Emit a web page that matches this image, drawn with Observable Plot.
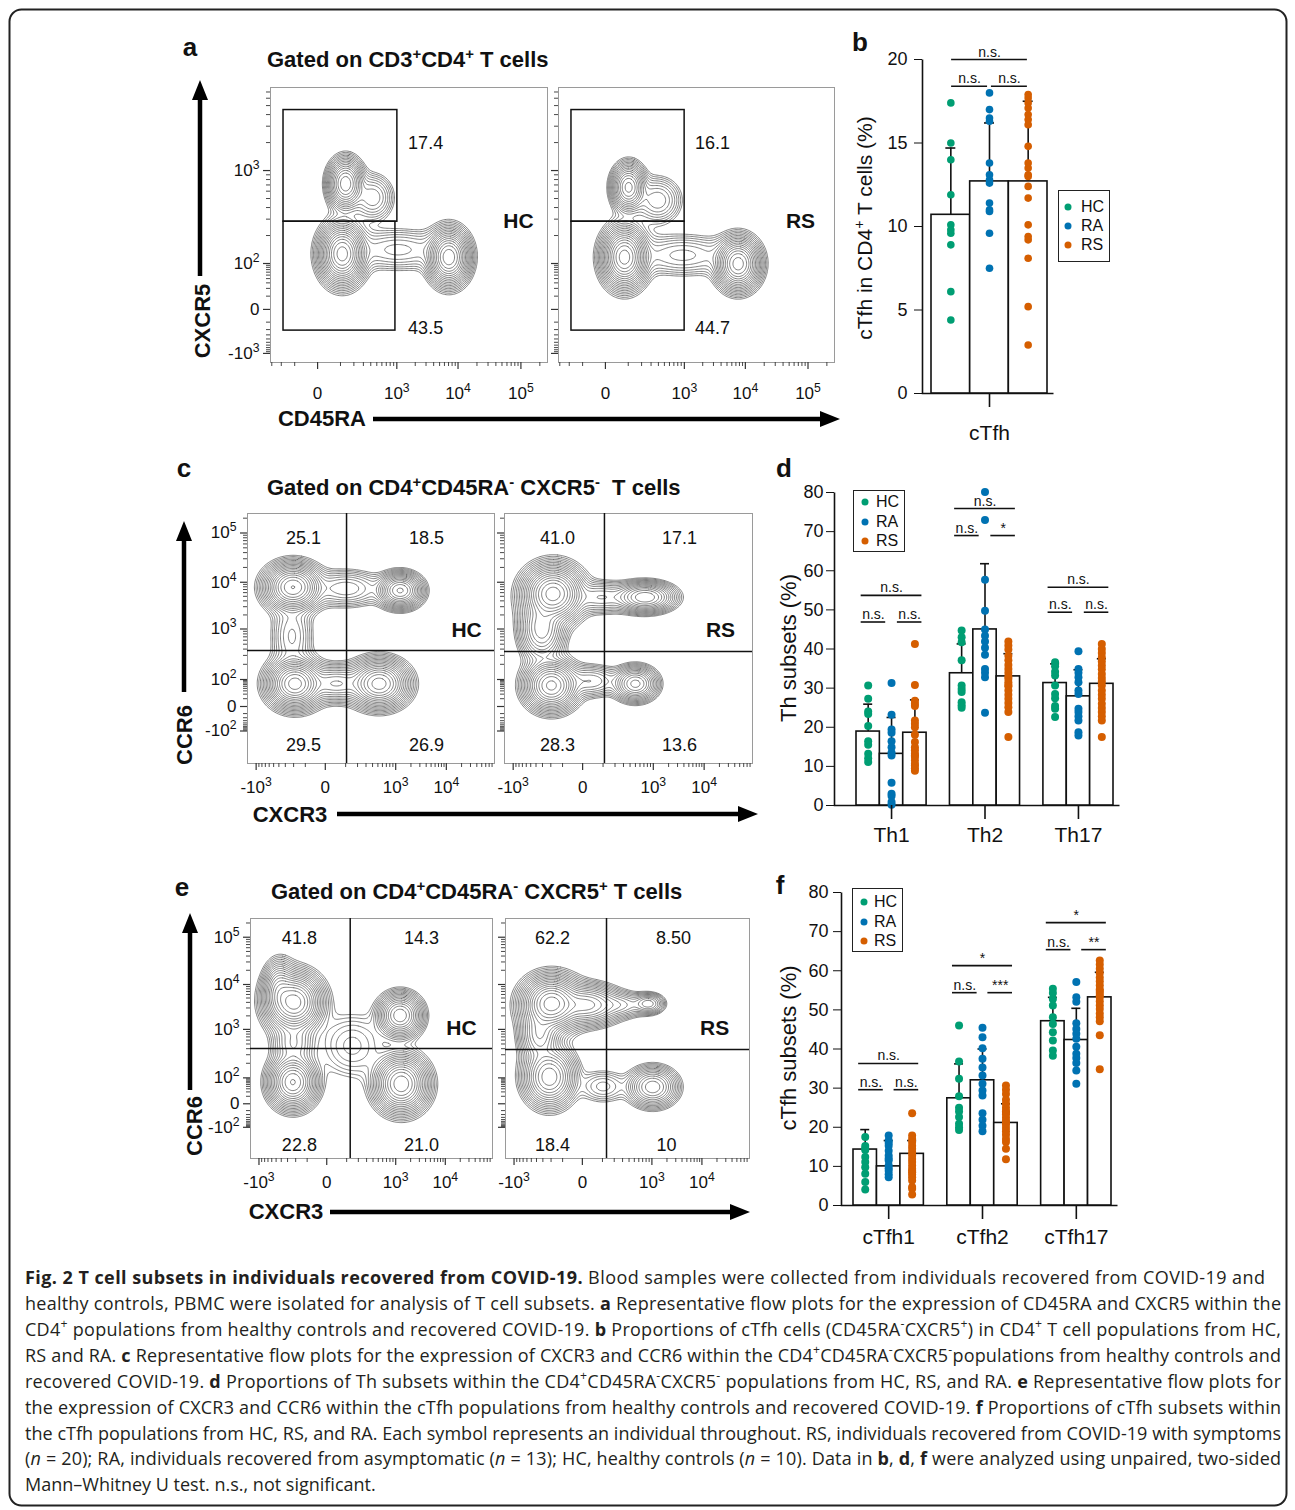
<!DOCTYPE html>
<html><head><meta charset="utf-8">
<script src="https://cdn.jsdelivr.net/npm/d3@7"></script>
<script src="https://cdn.jsdelivr.net/npm/@observablehq/plot@0.6"></script>
<style>
html,body{margin:0;padding:0;background:#fff;}
#page{position:relative;width:1295px;height:1510px;overflow:hidden;background:#fff;font-family:"Liberation Sans",Arial,sans-serif;color:#111;}
.lbl{position:absolute;white-space:nowrap;line-height:1;}
.lbl sup{font-size:0.68em;vertical-align:0.55em;line-height:0;}
.legend{position:absolute;border:1.2px solid #222;background:#fff;box-sizing:border-box;}
.legend .row{position:absolute;left:0;font-size:16px;line-height:1;transform:translateY(-50%);white-space:nowrap;}
.legend .dot{position:absolute;width:7px;height:7px;border-radius:50%;transform:translate(-50%,-50%);}
</style></head>
<body><div id="page"></div>
<script>
// ======================= DATA =======================
const series = ["HC", "RA", "RS"];
const seriesColor = ["#009E73", "#0072B2", "#D55E00"];

// ---- panel b : cTfh in CD4+ T cells (%) ----
const bGroups = ["cTfh"];
const bHC = [[17.4, 15.0, 14.0, 11.9, 10.1, 9.8, 9.6, 8.9, 6.1, 4.4]];
const bRA = [[18.0, 17.0, 16.5, 16.3, 13.8, 13.1, 12.8, 12.6, 11.4, 11.0, 10.9, 9.6, 7.5]];
const bRS = [[17.9, 17.7, 17.4, 17.1, 16.7, 16.4, 16.1, 14.8, 13.8, 13.5, 13.1, 13.0, 12.4, 11.7, 10.1, 9.4, 9.2, 8.1, 5.2, 2.9]];
const bMean = [[10.7, 12.7, 12.7]];
const bSDTop = [[14.7, 16.2, 17.5]];
const bTicks = [0, 5, 10, 15, 20];
const bSig = [
  {group: "cTfh", pair: ["HC", "RS"], label: "n.s.", level: 20.0},
  {group: "cTfh", pair: ["HC", "RA"], label: "n.s.", level: 18.4},
  {group: "cTfh", pair: ["RA", "RS"], label: "n.s.", level: 18.4}
];

// ---- panel d : Th subsets (%) ----
const dGroups = ["Th1", "Th2", "Th17"];
const dHC = [
  [30.7, 27.3, 24.0, 23.4, 20.3, 16.4, 15.5, 13.2, 12.1, 11.1],
  [44.7, 43.0, 41.7, 37.1, 30.7, 29.8, 29.0, 26.4, 25.6, 25.0],
  [36.6, 35.6, 34.2, 33.2, 30.7, 28.5, 27.4, 25.4, 24.7, 22.6]
];
const dRA = [
  [31.3, 23.2, 19.4, 18.6, 16.4, 14.9, 13.5, 12.8, 5.8, 3.0, 2.4, 0.9, 0.2],
  [80.1, 73.0, 57.7, 49.8, 45.0, 43.4, 41.9, 40.3, 38.5, 34.9, 33.9, 32.8, 23.7],
  [39.4, 34.9, 33.9, 32.8, 31.5, 29.4, 28.5, 24.7, 23.9, 22.8, 21.7, 18.7, 17.9]
];
const dRS = [
  [41.3, 30.8, 26.8, 26.0, 25.4, 21.7, 20.9, 20.0, 18.1, 16.2, 14.9, 14.1, 13.2, 12.8, 12.4, 11.5, 10.6, 10.2, 9.5, 8.9],
  [41.9, 40.9, 39.9, 38.3, 37.1, 35.9, 34.9, 33.9, 33.0, 32.4, 31.5, 30.8, 30.5, 29.4, 28.3, 27.3, 26.2, 25.1, 23.9, 17.5],
  [41.3, 40.0, 39.0, 37.9, 36.8, 35.8, 34.8, 33.6, 32.6, 31.7, 30.7, 29.4, 28.3, 27.3, 26.0, 24.9, 23.9, 22.8, 21.7, 17.5]
];
const dMean = [[18.9, 13.2, 18.6], [33.8, 45.0, 33.0], [31.3, 27.9, 31.1]];
const dSDTop = [[25.9, 22.5, 27.0], [41.3, 61.8, 38.8], [36.2, 34.7, 37.5]];
const dTicks = [0, 10, 20, 30, 40, 50, 60, 70, 80];
const dSig = [
  {group: "Th1", pair: ["HC", "RS"], label: "n.s.", level: 53.7},
  {group: "Th1", pair: ["HC", "RA"], label: "n.s.", level: 46.9},
  {group: "Th1", pair: ["RA", "RS"], label: "n.s.", level: 46.9},
  {group: "Th2", pair: ["HC", "RS"], label: "n.s.", level: 75.9},
  {group: "Th2", pair: ["HC", "RA"], label: "n.s.", level: 69.0},
  {group: "Th2", pair: ["RA", "RS"], label: "*", level: 69.0},
  {group: "Th17", pair: ["HC", "RS"], label: "n.s.", level: 55.8},
  {group: "Th17", pair: ["HC", "RA"], label: "n.s.", level: 49.4},
  {group: "Th17", pair: ["RA", "RS"], label: "n.s.", level: 49.4}
];

// ---- panel f : cTfh subsets (%) ----
const fGroups = ["cTfh1", "cTfh2", "cTfh17"];
const fHC = [
  [17.5, 15.2, 14.6, 14.2, 12.4, 11.1, 9.8, 8.1, 6.0, 4.1],
  [46.0, 36.8, 32.4, 27.9, 25.0, 24.0, 22.6, 20.9, 20.0, 19.3],
  [55.4, 54.3, 52.8, 51.1, 48.1, 46.4, 44.3, 42.2, 39.6, 38.3]
];
const fRA = [
  [17.9, 16.6, 16.0, 15.3, 14.0, 12.8, 12.0, 11.5, 10.2, 9.5, 8.9, 8.0, 7.2],
  [45.4, 43.0, 40.2, 37.5, 35.3, 33.2, 31.1, 29.4, 28.1, 23.6, 21.9, 20.4, 19.0],
  [57.1, 53.2, 52.1, 46.6, 45.1, 43.9, 42.6, 40.6, 38.8, 37.7, 36.4, 34.5, 31.1]
];
const fRS = [
  [23.6, 17.9, 17.0, 16.2, 15.3, 14.5, 13.6, 12.8, 11.9, 11.1, 10.2, 9.4, 8.9, 8.5, 7.9, 7.2, 6.4, 4.7, 4.3, 2.8],
  [30.7, 29.6, 28.5, 27.0, 26.0, 25.0, 24.1, 23.9, 23.3, 22.4, 21.6, 21.3, 20.7, 19.8, 19.0, 18.1, 17.0, 16.2, 14.5, 11.8],
  [62.6, 61.6, 60.5, 59.4, 58.3, 57.3, 56.3, 55.3, 54.8, 54.3, 53.7, 53.2, 52.2, 51.2, 50.2, 49.1, 48.1, 47.1, 43.5, 34.8]
];
const fMean = [[14.3, 10.0, 13.2], [27.4, 32.0, 21.1], [47.1, 42.3, 53.2]];
const fSDTop = [[19.4, 16.6, 16.6], [36.2, 40.0, 26.0], [53.2, 50.4, 59.6]];
const fTicks = [0, 10, 20, 30, 40, 50, 60, 70, 80];
const fSig = [
  {group: "cTfh1", pair: ["HC", "RS"], label: "n.s.", level: 36.3},
  {group: "cTfh1", pair: ["HC", "RA"], label: "n.s.", level: 29.6},
  {group: "cTfh1", pair: ["RA", "RS"], label: "n.s.", level: 29.6},
  {group: "cTfh2", pair: ["HC", "RS"], label: "*", level: 61.3},
  {group: "cTfh2", pair: ["HC", "RA"], label: "n.s.", level: 54.4},
  {group: "cTfh2", pair: ["RA", "RS"], label: "***", level: 54.4},
  {group: "cTfh17", pair: ["HC", "RS"], label: "*", level: 72.3},
  {group: "cTfh17", pair: ["HC", "RA"], label: "n.s.", level: 65.4},
  {group: "cTfh17", pair: ["RA", "RS"], label: "**", level: 65.4}
];

// ---- flow plots (axes in display-channel units 0..1000) ----
// panel a: CD45RA (x) vs CXCR5 (y)
const aXTickValues = [0, 1e3, 1e4, 1e5];
const aXTickLabels = ["0", "10³", "10⁴", "10⁵"];
const aXTickChannel = [170, 456, 677, 904];
const aYTickValues = [-1e3, 0, 1e2, 1e3];
const aYTickLabels = ["-10³", "0", "10²", "10³"];
const aYTickChannel = [33, 193, 360, 698];
// populations: centre (x,y), spread (sx,sy), relative weight w
const aPopsHC = [
  {x: 259, y: 395, sx: 31, sy: 42, w: 1.0},
  {x: 271, y: 650, sx: 26, sy: 37, w: 0.45},
  {x: 370, y: 600, sx: 35, sy: 40, w: 0.06},
  {x: 644, y: 383, sx: 29, sy: 39, w: 0.8},
  {x: 460, y: 410, sx: 90, sy: 38, w: 0.04}
];
const aPopsRS = [
  {x: 239, y: 383, sx: 31, sy: 42, w: 1.0},
  {x: 254, y: 637, sx: 25, sy: 35, w: 0.4},
  {x: 360, y: 590, sx: 40, sy: 40, w: 0.06},
  {x: 651, y: 359, sx: 31, sy: 37, w: 0.75},
  {x: 450, y: 390, sx: 90, sy: 38, w: 0.04}
];
const aGatesHC = [{x1: 47, x2: 458, y1: 512, y2: 918}, {x1: 47, x2: 451, y1: 116, y2: 512}];
const aGatesRS = [{x1: 47, x2: 457, y1: 512, y2: 918}, {x1: 47, x2: 457, y1: 116, y2: 512}];
const aPctHC = ["17.4", "43.5"];
const aPctRS = ["16.1", "44.7"];

// panels c & e: CXCR3 (x) vs CCR6 (y)
const ceXTickValues = [-1e3, 0, 1e3, 1e4];
const ceXTickLabels = ["-10³", "0", "10³", "10⁴"];
const ceXTickChannel = [35, 315, 600, 805];
const ceYTickValues = [-1e2, 0, 1e2, 1e3, 1e4, 1e5];
const ceYTickLabels = ["-10²", "0", "10²", "10³", "10⁴", "10⁵"];
const ceYTickChannel = [130, 228, 336, 538, 725, 922];

const cPopsHC = [
  {x: 184, y: 705, sx: 44, sy: 36, w: 0.85},
  {x: 618, y: 692, sx: 36, sy: 28, w: 0.5},
  {x: 192, y: 319, sx: 42, sy: 37, w: 1.0},
  {x: 533, y: 319, sx: 46, sy: 37, w: 0.75},
  {x: 360, y: 320, sx: 60, sy: 32, w: 0.15},
  {x: 400, y: 700, sx: 70, sy: 35, w: 0.06},
  {x: 180, y: 510, sx: 40, sy: 70, w: 0.05}
];
const cPopsRS = [
  {x: 196, y: 679, sx: 46, sy: 43, w: 1.0},
  {x: 150, y: 540, sx: 38, sy: 55, w: 0.25},
  {x: 567, y: 665, sx: 50, sy: 25, w: 0.35},
  {x: 390, y: 665, sx: 60, sy: 30, w: 0.06},
  {x: 189, y: 312, sx: 42, sy: 39, w: 0.7},
  {x: 528, y: 319, sx: 37, sy: 29, w: 0.3},
  {x: 350, y: 330, sx: 55, sy: 30, w: 0.06}
];
const cQuadHC = {x: 401, y: 452};
const cQuadRS = {x: 403, y: 448};
const cPctHC = ["25.1", "18.5", "29.5", "26.9"];   // UL, UR, LL, LR
const cPctRS = ["41.0", "17.1", "28.3", "13.6"];

const ePopsHC = [
  {x: 181, y: 651, sx: 44, sy: 46, w: 1.0},
  {x: 120, y: 700, sx: 28, sy: 50, w: 0.25},
  {x: 618, y: 596, sx: 37, sy: 37, w: 0.45},
  {x: 175, y: 318, sx: 39, sy: 43, w: 0.65},
  {x: 623, y: 311, sx: 43, sy: 46, w: 0.8},
  {x: 178, y: 480, sx: 40, sy: 50, w: 0.08},
  {x: 420, y: 470, sx: 70, sy: 70, w: 0.03}
];
const ePopsRS = [
  {x: 188, y: 645, sx: 46, sy: 43, w: 1.0},
  {x: 330, y: 640, sx: 60, sy: 35, w: 0.3},
  {x: 140, y: 520, sx: 35, sy: 55, w: 0.2},
  {x: 586, y: 645, sx: 30, sy: 20, w: 0.1},
  {x: 470, y: 640, sx: 50, sy: 25, w: 0.06},
  {x: 180, y: 340, sx: 43, sy: 50, w: 0.45},
  {x: 603, y: 298, sx: 43, sy: 35, w: 0.25},
  {x: 400, y: 300, sx: 50, sy: 35, w: 0.03}
];
const eQuadHC = {x: 412, y: 458};
const eQuadRS = {x: 414, y: 454};
const ePctHC = ["41.8", "14.3", "22.8", "21.0"];
const ePctRS = ["62.2", "8.50", "18.4", "10"];

// ======================= LAYOUT / RENDER =======================
const W = 1295, H = 1510;
const page = document.getElementById("page");
const FONT = "Liberation Sans, Arial, Helvetica, sans-serif";
const levels = d3.range(18).map(k => 0.9 * Math.pow(0.75, k));
const HALO_S = 1.6, HALO_W = 0.07;
const SVGNS = "http://www.w3.org/2000/svg";
const supDigit = {"²": "2", "³": "3", "⁴": "4", "⁵": "5"};

function place(svg) {
  svg.style.position = "absolute";
  svg.style.left = "0px";
  svg.style.top = "0px";
  svg.style.background = "transparent";
  svg.style.maxWidth = "none";
  svg.style.overflow = "visible";
  svg.querySelectorAll("text").forEach(t => {
    const m = t.textContent.match(/^(-?10)([²³⁴⁵])$/);
    if (!m) return;
    t.textContent = "";
    const a = document.createElementNS(SVGNS, "tspan");
    a.textContent = m[1];
    const b = document.createElementNS(SVGNS, "tspan");
    b.textContent = supDigit[m[2]];
    b.setAttribute("baseline-shift", "super");
    b.setAttribute("font-size", "72%");
    t.appendChild(a); t.appendChild(b);
  });
  page.appendChild(svg);
}

function label(html, x, y, o = {}) {
  const el = document.createElement("div");
  el.className = "lbl";
  el.innerHTML = html;
  el.style.left = x + "px";
  el.style.top = y + "px";
  el.style.fontSize = (o.size || 20) + "px";
  el.style.fontWeight = o.bold ? "700" : "400";
  const tx = o.anchor === "start" ? "0" : o.anchor === "end" ? "-100%" : "-50%";
  el.style.transform = `translate(${tx},-50%)` + (o.rotate ? ` rotate(${o.rotate}deg)` : "");
  page.appendChild(el);
}

function minorTicks(vals, pos) {
  const out = [];
  const f = k => Math.log10(1 + k) / Math.log10(11);
  for (let i = 0; i < vals.length - 1; i++) {
    const v0 = vals[i], v1 = vals[i + 1], p0 = pos[i], p1 = pos[i + 1];
    if (v0 > 0) for (let k = 2; k <= 9; k++) out.push(p0 + Math.log10(k) * (p1 - p0));
    else if (v0 === 0) for (let k = 1; k <= 9; k++) out.push(p0 + (p1 - p0) * f(k));
    else if (v1 === 0) for (let k = 1; k <= 9; k++) out.push(p1 - (p1 - p0) * f(k));
  }
  const n = vals.length;
  if (vals[0] === 0 && n > 1) for (let k = 1; k <= 9; k++) out.push(pos[0] - (pos[1] - pos[0]) * f(k));
  if (vals[n - 1] > 0 && vals[n - 2] > 0) {
    const d = pos[n - 1] - pos[n - 2];
    for (let k = 2; k <= 10; k++) out.push(pos[n - 1] + Math.log10(k) * d);
  }
  return out.filter(p => p >= 0 && p <= 1000);
}

// density contours of the populations (core + broad halo), traced with d3.contours
function contourRings(pops) {
  const nx = 220, ny = 220;
  const values = new Float64Array(nx * ny);
  const h2 = HALO_S * HALO_S;
  for (let j = 0; j < ny; j++) for (let i = 0; i < nx; i++) {
    const x = (i + 0.5) * 1000 / nx, y = (j + 0.5) * 1000 / ny;
    let s = 0;
    for (const p of pops) {
      const dx = (x - p.x) / p.sx, dy = (y - p.y) / p.sy;
      const q = dx * dx + dy * dy;
      s += p.w * (Math.exp(-0.5 * q) + HALO_W * Math.exp(-0.5 * q / h2));
    }
    values[j * nx + i] = s;
  }
  const cs = d3.contours().size([nx, ny]).thresholds(levels)(values);
  const pts = [];
  let ring = 0;
  for (const c of cs) for (const poly of c.coordinates) for (const r of poly) {
    for (const [gx, gy] of r) pts.push({x: gx * 1000 / nx, y: gy * 1000 / ny, ring});
    ring++;
  }
  return pts;
}

function flowPlot(cfg) {
  const [L, T, R, B] = cfg.frame;
  const kx = 1000 / (R - L), ky = 1000 / (B - T);
  const xMaj = cfg.xTickChannel.map((p, i) => ({p, l: cfg.xTickLabels[i]}));
  const yMaj = cfg.yTickChannel.map((p, i) => ({p, l: cfg.showYLabels ? cfg.yTickLabels[i] : ""}));
  const xMin = minorTicks(cfg.xTickValues, cfg.xTickChannel);
  const yMin = minorTicks(cfg.yTickValues, cfg.yTickChannel);
  const rings = contourRings(cfg.pops);
  const marks = [
    Plot.line(rings, {x: "x", y: "y", z: "ring", stroke: "#4a4a4a", strokeWidth: 0.7}),
    Plot.frame({stroke: "#9a9a9a", strokeWidth: 1}),
    Plot.ruleY(yMaj, {y: "p", x1: -7 * kx, x2: 0, stroke: "#333", strokeWidth: 1.2}),
    Plot.ruleY(yMin, {y: d => d, x1: -4 * kx, x2: 0, stroke: "#333", strokeWidth: 0.9}),
    Plot.ruleX(xMaj, {x: "p", y1: -7 * ky, y2: 0, stroke: "#333", strokeWidth: 1.2}),
    Plot.ruleX(xMin, {x: d => d, y1: -4 * ky, y2: 0, stroke: "#333", strokeWidth: 0.9}),
    Plot.text(yMaj, {x: 0, y: "p", text: "l", dx: -11, textAnchor: "end", fontSize: 17, fill: "#111"}),
    Plot.text(xMaj, {x: "p", y: 0, text: "l", dy: cfg.xLabelDy, fontSize: 17, fill: "#111"}),
    ...cfg.extra
  ];
  place(Plot.plot({
    width: W, height: H,
    marginLeft: L, marginTop: T, marginRight: W - R, marginBottom: H - B,
    x: {domain: [0, 1000], axis: null},
    y: {domain: [0, 1000], axis: null},
    style: {fontFamily: FONT, fontSize: "17px", color: "#111"},
    marks
  }));
}

function quadMarks(q, pct, pos, name, namePos) {
  const pctData = pct.map((t, i) => ({t, x: pos[i][0], y: pos[i][1]}));
  return [
    Plot.ruleX([q.x], {stroke: "#111", strokeWidth: 1.5}),
    Plot.ruleY([q.y], {stroke: "#111", strokeWidth: 1.5}),
    Plot.text(pctData, {x: "x", y: "y", text: "t", fontSize: 18, fill: "#111"}),
    Plot.text([name], {x: namePos[0], y: namePos[1], text: d => d, fontSize: 21, fontWeight: "bold", fill: "#111"})
  ];
}

function gateMarks(gates, pct, pos, name, namePos) {
  const pctData = pct.map((t, i) => ({t, x: pos[i][0], y: pos[i][1]}));
  return [
    Plot.rect(gates, {x1: "x1", x2: "x2", y1: "y1", y2: "y2", fill: "none", stroke: "#111", strokeWidth: 1.5}),
    Plot.text(pctData, {x: "x", y: "y", text: "t", fontSize: 18, fill: "#111"}),
    Plot.text([name], {x: namePos[0], y: namePos[1], text: d => d, fontSize: 21, fontWeight: "bold", fill: "#111"})
  ];
}

const aAxes = {xTickValues: aXTickValues, xTickLabels: aXTickLabels, xTickChannel: aXTickChannel,
  yTickValues: aYTickValues, yTickLabels: aYTickLabels, yTickChannel: aYTickChannel};
const ceAxes = {xTickValues: ceXTickValues, xTickLabels: ceXTickLabels, xTickChannel: ceXTickChannel,
  yTickValues: ceYTickValues, yTickLabels: ceYTickLabels, yTickChannel: ceYTickChannel};

// ---- panel a ----
flowPlot({...aAxes, frame: [270, 87, 547, 362], pops: aPopsHC, xLabelDy: 31, showYLabels: true,
  extra: gateMarks(aGatesHC, aPctHC, [[560, 796], [560, 124]], "HC", [895, 512])});
flowPlot({...aAxes, frame: [558, 87, 834, 362], pops: aPopsRS, xLabelDy: 31, showYLabels: false,
  extra: gateMarks(aGatesRS, aPctRS, [[558, 796], [558, 124]], "RS", [877, 512])});
// ---- panel c ----
flowPlot({...ceAxes, frame: [247, 513, 494, 763], pops: cPopsHC, xLabelDy: 24, showYLabels: true,
  extra: quadMarks(cQuadHC, cPctHC, [[227, 900], [725, 900], [227, 72], [725, 72]], "HC", [887, 532])});
flowPlot({...ceAxes, frame: [504, 513, 752, 763], pops: cPopsRS, xLabelDy: 24, showYLabels: false,
  extra: quadMarks(cQuadRS, cPctRS, [[214, 900], [706, 900], [214, 72], [706, 72]], "RS", [871, 532])});
// ---- panel e ----
flowPlot({...ceAxes, frame: [250, 918, 492, 1158], pops: ePopsHC, xLabelDy: 24, showYLabels: true,
  extra: quadMarks(eQuadHC, ePctHC, [[202, 917], [707, 917], [202, 54], [707, 54]], "HC", [872, 542])});
flowPlot({...ceAxes, frame: [505, 918, 749, 1158], pops: ePopsRS, xLabelDy: 24, showYLabels: false,
  extra: quadMarks(eQuadRS, ePctRS, [[193, 917], [689, 917], [193, 54], [660, 54]], "RS", [857, 542])});

// ---- bar panels ----
function barPanel(cfg) {
  const [L, T, R, B] = cfg.frame;
  const nG = cfg.groups.length;
  const nSlots = nG * 4 - 1;
  const slot = (gi, si) => gi * 4 + si;
  const pxPerUnit = (B - T) / cfg.yMax;
  const slotPx = (cfg.barRange[1] - cfg.barRange[0]) / nSlots;
  const stats = [], pts = [];
  cfg.groups.forEach((g, gi) => series.forEach((s, si) => {
    stats.push({slot: slot(gi, si), mean: cfg.mean[gi][si], sd: cfg.sdTop[gi][si]});
    cfg.values[si][gi].forEach(v => pts.push({slot: slot(gi, si), v, c: seriesColor[si]}));
  }));
  const sig = cfg.sig.map(d => {
    const gi = cfg.groups.indexOf(d.group);
    const a = series.indexOf(d.pair[0]), b = series.indexOf(d.pair[1]);
    const x1 = slot(gi, a) + (a === 0 ? cfg.sigOuter : 1 - cfg.sigInner);
    const x2 = slot(gi, b) + (b === 2 ? 1 - cfg.sigOuter : cfg.sigInner);
    return {x1, x2, y: d.level, label: d.label};
  });
  const cap = cfg.capPx / 2 / slotPx;
  const centers = cfg.groups.map((g, gi) => ({g, x: slot(gi, 1) + 0.5}));
  const fw = R - L, fh = B - T;
  place(Plot.plot({
    width: W, height: H,
    marginLeft: L, marginTop: T, marginRight: W - R, marginBottom: H - B,
    x: {domain: [0, nSlots], range: cfg.barRange, axis: null},
    y: {domain: [0, cfg.yMax], ticks: cfg.ticks, tickSize: 8, tickPadding: cfg.tickPadding, label: null},
    style: {fontFamily: FONT, fontSize: "18px", color: "#111"},
    marks: [
      Plot.frame({stroke: "#111", strokeWidth: 1.6, strokeDasharray: `0 ${fw + fh} ${fw + fh}`}),
      Plot.rect(stats, {x1: d => d.slot, x2: d => d.slot + 1, y1: 0, y2: "mean", fill: "white", stroke: "#111", strokeWidth: 1.6}),
      Plot.ruleX(stats, {x: d => d.slot + 0.5, y1: "mean", y2: "sd", stroke: "#111", strokeWidth: 1.6}),
      Plot.ruleY(stats, {y: "sd", x1: d => d.slot + 0.5 - cap, x2: d => d.slot + 0.5 + cap, stroke: "#111", strokeWidth: 1.6}),
      Plot.dot(pts, {x: d => d.slot + 0.5, y: "v", fill: "c", r: cfg.r}),
      Plot.ruleY(sig, {y: "y", x1: "x1", x2: "x2", stroke: "#111", strokeWidth: 1.6}),
      Plot.text(sig, {x: d => (d.x1 + d.x2) / 2, y: "y", text: "label", dy: -3, lineAnchor: "bottom", fontSize: 14, fill: "#111"}),
      Plot.ruleX(centers, {x: "x", y1: 0, y2: -14 / pxPerUnit, stroke: "#111", strokeWidth: 1.6}),
      Plot.text(centers, {x: "x", y: 0, text: "g", dy: cfg.catDy, fontSize: 21, fill: "#111"})
    ]
  }));
}

barPanel({frame: [922, 59, 1053, 393], barRange: [931, 1047], groups: bGroups, yMax: 20, ticks: bTicks,
  values: [bHC, bRA, bRS], mean: bMean, sdTop: bSDTop, sig: bSig, sigOuter: 0.52, sigInner: 0.45,
  capPx: 10, r: 3.8, catDy: 40, tickPadding: 7});
barPanel({frame: [834, 492, 1119, 805], barRange: [856, 1113], groups: dGroups, yMax: 80, ticks: dTicks,
  values: [dHC, dRA, dRS], mean: dMean, sdTop: dSDTop, sig: dSig, sigOuter: 0.2, sigInner: 0.25,
  capPx: 9, r: 4, catDy: 30, tickPadding: 3});
barPanel({frame: [841, 892, 1117, 1205], barRange: [853, 1111], groups: fGroups, yMax: 80, ticks: fTicks,
  values: [fHC, fRA, fRS], mean: fMean, sdTop: fSDTop, sig: fSig, sigOuter: 0.22, sigInner: 0.27,
  capPx: 9, r: 4, catDy: 32, tickPadding: 5});

// ---- legends ----
function legend(x, y, w, h, dotX, textX, rows) {
  const box = document.createElement("div");
  box.className = "legend";
  Object.assign(box.style, {left: x + "px", top: y + "px", width: w + "px", height: h + "px"});
  series.forEach((s, i) => {
    const dot = document.createElement("div");
    dot.className = "dot";
    Object.assign(dot.style, {left: dotX + "px", top: rows[i] + "px", background: seriesColor[i]});
    const t = document.createElement("div");
    t.className = "row";
    t.textContent = s;
    Object.assign(t.style, {left: textX + "px", top: rows[i] + "px"});
    box.appendChild(dot); box.appendChild(t);
  });
  page.appendChild(box);
}
legend(1058, 190, 52, 72, 9, 22, [16, 35, 54]);
legend(853, 490, 52, 62, 11, 22, [11, 31, 50]);
legend(852, 888, 51, 64, 11, 21, [13, 33, 52]);

// ---- text labels ----
label("a", 190, 47, {size: 26, bold: true});
label("b", 860, 42, {size: 26, bold: true});
label("c", 184, 468, {size: 26, bold: true});
label("d", 784, 468, {size: 26, bold: true});
label("e", 182, 887, {size: 26, bold: true});
label("f", 780, 885, {size: 26, bold: true});

label("Gated on CD3<sup>+</sup>CD4<sup>+</sup> T cells", 267, 60, {size: 22, bold: true, anchor: "start"});
label("Gated on CD4<sup>+</sup>CD45RA<sup>-</sup> CXCR5<sup>-</sup>&nbsp; T cells", 267, 488, {size: 22, bold: true, anchor: "start"});
label("Gated on CD4<sup>+</sup>CD45RA<sup>-</sup> CXCR5<sup>+</sup> T cells", 271, 892, {size: 22, bold: true, anchor: "start"});

label("CXCR5", 203, 321, {size: 22, bold: true, rotate: -90});
label("CD45RA", 322, 419, {size: 22, bold: true});
label("CCR6", 185, 735, {size: 22, bold: true, rotate: -90});
label("CXCR3", 290, 815, {size: 22, bold: true});
label("CCR6", 195, 1126, {size: 22, bold: true, rotate: -90});
label("CXCR3", 286, 1212, {size: 22, bold: true});

label("cTfh in CD4<sup>+</sup> T cells (%)", 864, 228, {size: 21, rotate: -90});
label("Th subsets (%)", 789, 648, {size: 22, rotate: -90});
label("cTfh subsets (%)", 789, 1048, {size: 22, rotate: -90});

// ---- arrows + outer border ----
function arrowV(x, yStart, yTip) {
  return `<line x1="${x}" y1="${yStart}" x2="${x}" y2="${yTip + 16}" stroke="#000" stroke-width="4.5"/>
  <polygon points="${x - 8},${yTip + 20} ${x + 8},${yTip + 20} ${x},${yTip}" fill="#000"/>`;
}
function arrowH(y, xStart, xTip) {
  return `<line x1="${xStart}" y1="${y}" x2="${xTip - 16}" y2="${y}" stroke="#000" stroke-width="4.5"/>
  <polygon points="${xTip - 20},${y - 8} ${xTip - 20},${y + 8} ${xTip},${y}" fill="#000"/>`;
}
const deco = document.createElementNS(SVGNS, "svg");
deco.setAttribute("width", W); deco.setAttribute("height", H);
deco.style.position = "absolute"; deco.style.left = "0px"; deco.style.top = "0px";
deco.innerHTML = `<rect x="9.5" y="9.5" width="1277" height="1496" rx="12" ry="12" fill="none" stroke="#222" stroke-width="2"/>
${arrowV(200, 276, 80)}${arrowH(419, 373, 840)}
${arrowV(184, 692, 521)}${arrowH(814, 337, 758)}
${arrowV(190, 1090, 913)}${arrowH(1212, 330, 750)}`;
page.appendChild(deco);

// ---- caption ----
const sup = s => `<tspan baseline-shift="super" font-size="68%">${s}</tspan>`;
const bo = s => `<tspan font-weight="700">${s}</tspan>`;
const it = s => `<tspan font-style="italic">${s}</tspan>`;
const capLines = [
  `${bo("Fig. 2 T cell subsets in individuals recovered from COVID-19.")} Blood samples were collected from individuals recovered from COVID-19 and`,
  `healthy controls, PBMC were isolated for analysis of T cell subsets. ${bo("a")} Representative flow plots for the expression of CD45RA and CXCR5 within the`,
  `CD4${sup("+")} populations from healthy controls and recovered COVID-19. ${bo("b")} Proportions of cTfh cells (CD45RA${sup("-")}CXCR5${sup("+")}) in CD4${sup("+")} T cell populations from HC,`,
  `RS and RA. ${bo("c")} Representative flow plots for the expression of CXCR3 and CCR6 within the CD4${sup("+")}CD45RA${sup("-")}CXCR5${sup("-")}populations from healthy controls and`,
  `recovered COVID-19. ${bo("d")} Proportions of Th subsets within the CD4${sup("+")}CD45RA${sup("-")}CXCR5${sup("-")} populations from HC, RS, and RA. ${bo("e")} Representative flow plots for`,
  `the expression of CXCR3 and CCR6 within the cTfh populations from healthy controls and recovered COVID-19. ${bo("f")} Proportions of cTfh subsets within`,
  `the cTfh populations from HC, RS, and RA. Each symbol represents an individual throughout. RS, individuals recovered from COVID-19 with symptoms`,
  `(${it("n")} = 20); RA, individuals recovered from asymptomatic (${it("n")} = 13); HC, healthy controls (${it("n")} = 10). Data in ${bo("b")}, ${bo("d")}, ${bo("f")} were analyzed using unpaired, two-sided`,
  `Mann–Whitney U test. n.s., not significant.`
];
const capBase = [1284, 1310, 1336, 1362, 1388, 1414, 1440, 1465, 1491];
const capLen = [1240, 1256, 1256, 1256, 1256, 1256, 1256, 1256, null];
const cap = document.createElementNS(SVGNS, "svg");
cap.setAttribute("width", W); cap.setAttribute("height", H);
cap.style.position = "absolute"; cap.style.left = "0px"; cap.style.top = "0px";
cap.innerHTML = capLines.map((t, i) =>
  `<text x="25" y="${capBase[i]}" font-family="Open Sans, Noto Sans, sans-serif" font-size="18" fill="#231f20"` +
  (capLen[i] ? ` textLength="${capLen[i]}" lengthAdjust="spacing"` : "") + `>${t}</text>`).join("");
page.appendChild(cap);
</script>
</body></html>
